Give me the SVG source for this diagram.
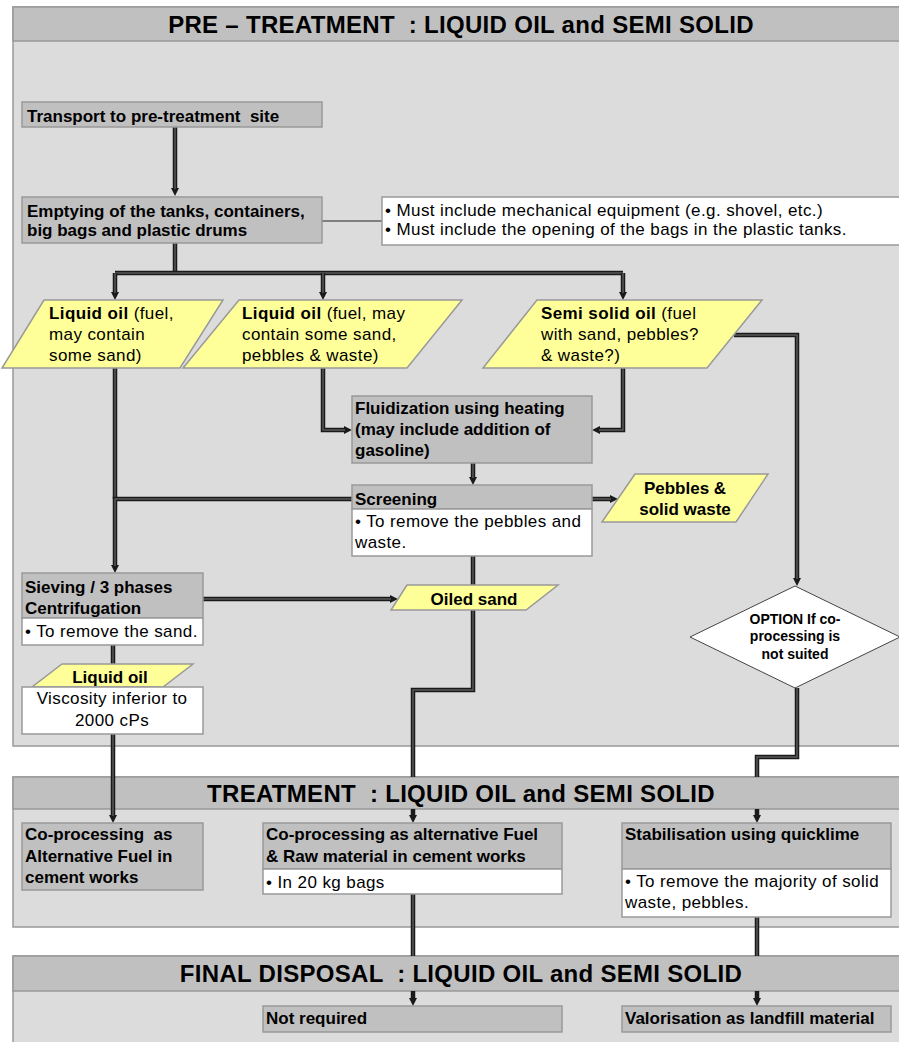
<svg xmlns="http://www.w3.org/2000/svg" width="899" height="1042" viewBox="0 0 899 1042">
<defs>
<marker id="ah" viewBox="0 0 8 8" refX="1" refY="4" markerWidth="8" markerHeight="8" markerUnits="userSpaceOnUse" orient="auto">
<path d="M0,0 L8,4 L0,8 z" fill="#1a1a1a"/>
</marker>
<style>
.panel{fill:#dcdcdc;stroke:#999;stroke-width:1.5}
.hdr{fill:#c0c0c0;stroke:#999;stroke-width:1.5}
.box{fill:#c0c0c0;stroke:#999;stroke-width:1.5}
.wbox{fill:#fff;stroke:#999;stroke-width:1.5}
.io{fill:#ffff99;stroke:#999;stroke-width:1.5}
.dia{fill:#fff;stroke:#444;stroke-width:1}
.co{fill:none;stroke:#1a1a1a;stroke-width:4.5;stroke-linejoin:miter}
.ci{fill:none;stroke:#5a5a5a;stroke-width:1.5;stroke-linejoin:miter}
.arr{marker-end:url(#ah)}
.thin{fill:none;stroke:#222;stroke-width:1}
.h{font-family:'Liberation Sans',Arial,sans-serif;font-weight:bold;font-size:24px;letter-spacing:0.3px;fill:#000;text-anchor:middle}
.b{font-family:'Liberation Sans',Arial,sans-serif;font-weight:bold;font-size:17px;fill:#000}
.r{font-family:'Liberation Sans',Arial,sans-serif;font-size:17px;letter-spacing:0.4px;fill:#000}
.d{font-family:'Liberation Sans',Arial,sans-serif;font-weight:bold;font-size:14px;fill:#000;text-anchor:middle}
.c{text-anchor:middle}
</style>
</defs>

<g id="panel-pretreatment">
<rect class="panel" x="13" y="7" width="900" height="739"/>
<rect class="hdr" x="13" y="7" width="900" height="34"/>
<text class="h" x="461" y="33" xml:space="preserve">PRE – TREATMENT  : LIQUID OIL and SEMI SOLID</text>
</g>
<g id="panel-treatment">
<rect class="panel" x="13" y="777" width="900" height="150"/>
<rect class="hdr" x="13" y="777" width="900" height="32"/>
<text class="h" x="461" y="802" xml:space="preserve">TREATMENT  : LIQUID OIL and SEMI SOLID</text>
</g>
<g id="panel-final">
<rect class="panel" x="13" y="956" width="900" height="100"/>
<rect class="hdr" x="13" y="956" width="900" height="35"/>
<text class="h" x="461" y="982" xml:space="preserve">FINAL DISPOSAL  : LIQUID OIL and SEMI SOLID</text>
</g>

<g id="connectors">
<path class="thin" d="M322,221 H382"/>
<path class="co arr" d="M175,127 V189"/><path class="ci" d="M175,127 V189"/>
<path class="co" d="M175,243 V273"/><path class="ci" d="M175,243 V273"/>
<path class="co" d="M115,273 H623"/><path class="ci" d="M115,273 H623"/>
<path class="co arr" d="M115,273 V293"/><path class="ci" d="M115,273 V293"/>
<path class="co arr" d="M323,273 V293"/><path class="ci" d="M323,273 V293"/>
<path class="co arr" d="M623,273 V293"/><path class="ci" d="M623,273 V293"/>
<path class="co arr" d="M323,368 V430 H345"/><path class="ci" d="M323,368 V430 H345"/>
<path class="co arr" d="M623,368 V430 H599"/><path class="ci" d="M623,368 V430 H599"/>
<path class="co arr" d="M473,463 V478"/><path class="ci" d="M473,463 V478"/>
<path class="co arr" d="M592,499 H611"/><path class="ci" d="M592,499 H611"/>
<path class="co" d="M115,368 V499"/><path class="ci" d="M115,368 V499"/>
<path class="co arr" d="M352,499 H115 V566"/><path class="ci" d="M352,499 H115 V566"/>
<path class="co arr" d="M203,599 H391"/><path class="ci" d="M203,599 H391"/>
<path class="co" d="M473,556 V585"/><path class="ci" d="M473,556 V585"/>
<path class="co" d="M473,610 V690 H413 V777"/><path class="ci" d="M473,610 V690 H413 V777"/>
<path class="co arr" d="M413,809 V816"/>
<path class="co" d="M113,645 V664"/><path class="ci" d="M113,645 V664"/>
<path class="co arr" d="M113,734 V816"/><path class="ci" d="M113,734 V816"/>
<path class="co arr" d="M734,335 H797 V579"/><path class="ci" d="M734,335 H797 V579"/>
<path class="co" d="M797,688 V757 H757 V777"/><path class="ci" d="M797,688 V757 H757 V777"/>
<path class="co arr" d="M757,809 V816"/>
<path class="co" d="M413,894 V956"/><path class="ci" d="M413,894 V956"/>
<path class="co arr" d="M413,991 V999"/>
<path class="co" d="M757,917 V956"/><path class="ci" d="M757,917 V956"/>
<path class="co arr" d="M757,991 V999"/>
</g>

<g id="transport">
<rect class="box" x="22" y="102" width="300" height="25"/>
<text class="b" x="27" y="122" xml:space="preserve">Transport to pre-treatment  site</text>
</g>
<g id="emptying">
<rect class="box" x="22" y="197" width="300" height="46"/>
<text class="b" x="27" y="217">Emptying of the tanks, containers,</text>
<text class="b" x="27" y="236">big bags and plastic drums</text>
</g>
<g id="note">
<rect class="wbox" x="382" y="197" width="525" height="48"/>
<text class="r" x="385" y="216">• Must include mechanical equipment (e.g. shovel, etc.)</text>
<text class="r" x="385" y="235">• Must include the opening of the bags in the plastic tanks.</text>
</g>
<g id="liquid-oil-1">
<polygon class="io" points="44,300 223,300 180,368 2,368"/>
<text class="r" x="49" y="319"><tspan font-weight="bold">Liquid oil</tspan> (fuel,</text>
<text class="r" x="49" y="340">may contain</text>
<text class="r" x="49" y="361">some sand)</text>
</g>
<g id="liquid-oil-2">
<polygon class="io" points="239,300 462,300 407,368 183,368"/>
<text class="r" x="242" y="319"><tspan font-weight="bold">Liquid oil</tspan> (fuel, may</text>
<text class="r" x="242" y="340">contain some sand,</text>
<text class="r" x="242" y="361">pebbles &amp; waste)</text>
</g>
<g id="semi-solid">
<polygon class="io" points="537,300 762,300 707,368 483,368"/>
<text class="r" x="541" y="319"><tspan font-weight="bold">Semi solid oil</tspan> (fuel</text>
<text class="r" x="541" y="340">with sand, pebbles?</text>
<text class="r" x="541" y="361">&amp; waste?)</text>
</g>
<g id="fluidization">
<rect class="box" x="352" y="396" width="240" height="67"/>
<text class="b" x="355" y="414">Fluidization using heating</text>
<text class="b" x="355" y="435">(may include addition of</text>
<text class="b" x="355" y="456">gasoline)</text>
</g>
<g id="screening">
<rect class="box" x="352" y="485" width="240" height="24"/>
<rect class="wbox" x="352" y="509" width="240" height="47"/>
<text class="b" x="355" y="505">Screening</text>
<text class="r" x="355" y="527">• To remove the pebbles and</text>
<text class="r" x="355" y="548">waste.</text>
</g>
<g id="pebbles">
<polygon class="io" points="635,474 768,474 736,522 602,522"/>
<text class="b c" x="685" y="494">Pebbles &amp;</text>
<text class="b c" x="685" y="515">solid waste</text>
</g>
<g id="sieving">
<rect class="box" x="22" y="573" width="181" height="45"/>
<rect class="wbox" x="22" y="618" width="181" height="27"/>
<text class="b" x="25" y="593">Sieving / 3 phases</text>
<text class="b" x="25" y="614">Centrifugation</text>
<text class="r" x="25" y="637">• To remove the sand.</text>
</g>
<g id="oiled-sand">
<polygon class="io" points="407,585 558,585 526,610 391,610"/>
<text class="b c" x="474" y="605">Oiled sand</text>
</g>
<g id="liquid-oil-3">
<polygon class="io" points="62,664 193,664 163,687 32,687"/>
<text class="b c" x="110" y="683">Liquid oil</text>
</g>
<g id="viscosity">
<rect class="wbox" x="22" y="687" width="181" height="47"/>
<text class="r c" x="112" y="704">Viscosity inferior to</text>
<text class="r c" x="112" y="726">2000 cPs</text>
</g>
<g id="option">
<polygon class="dia" points="795,586 900,637 795,688 690,637"/>
<text class="d" x="795" y="624">OPTION If co-</text>
<text class="d" x="795" y="641">processing is</text>
<text class="d" x="795" y="659">not suited</text>
</g>
<g id="coprocessing-fuel">
<rect class="box" x="22" y="823" width="181" height="67"/>
<text class="b" x="25" y="840" xml:space="preserve">Co-processing  as</text>
<text class="b" x="25" y="862">Alternative Fuel in</text>
<text class="b" x="25" y="883">cement works</text>
</g>
<g id="coprocessing-raw">
<rect class="box" x="263" y="823" width="299" height="46"/>
<rect class="wbox" x="263" y="869" width="299" height="25"/>
<text class="b" x="266" y="840">Co-processing as alternative Fuel</text>
<text class="b" x="266" y="862">&amp; Raw material in cement works</text>
<text class="r" x="266" y="888">• In 20 kg bags</text>
</g>
<g id="stabilisation">
<rect class="box" x="622" y="823" width="269" height="46"/>
<rect class="wbox" x="622" y="869" width="269" height="48"/>
<text class="b" x="625" y="840">Stabilisation using quicklime</text>
<text class="r" x="625" y="887">• To remove the majority of solid</text>
<text class="r" x="625" y="908">waste, pebbles.</text>
</g>
<g id="not-required">
<rect class="box" x="263" y="1006" width="299" height="26"/>
<text class="b" x="266" y="1024">Not required</text>
</g>
<g id="valorisation">
<rect class="box" x="622" y="1006" width="269" height="26"/>
<text class="b" x="625" y="1024">Valorisation as landfill material</text>
</g>
</svg>
